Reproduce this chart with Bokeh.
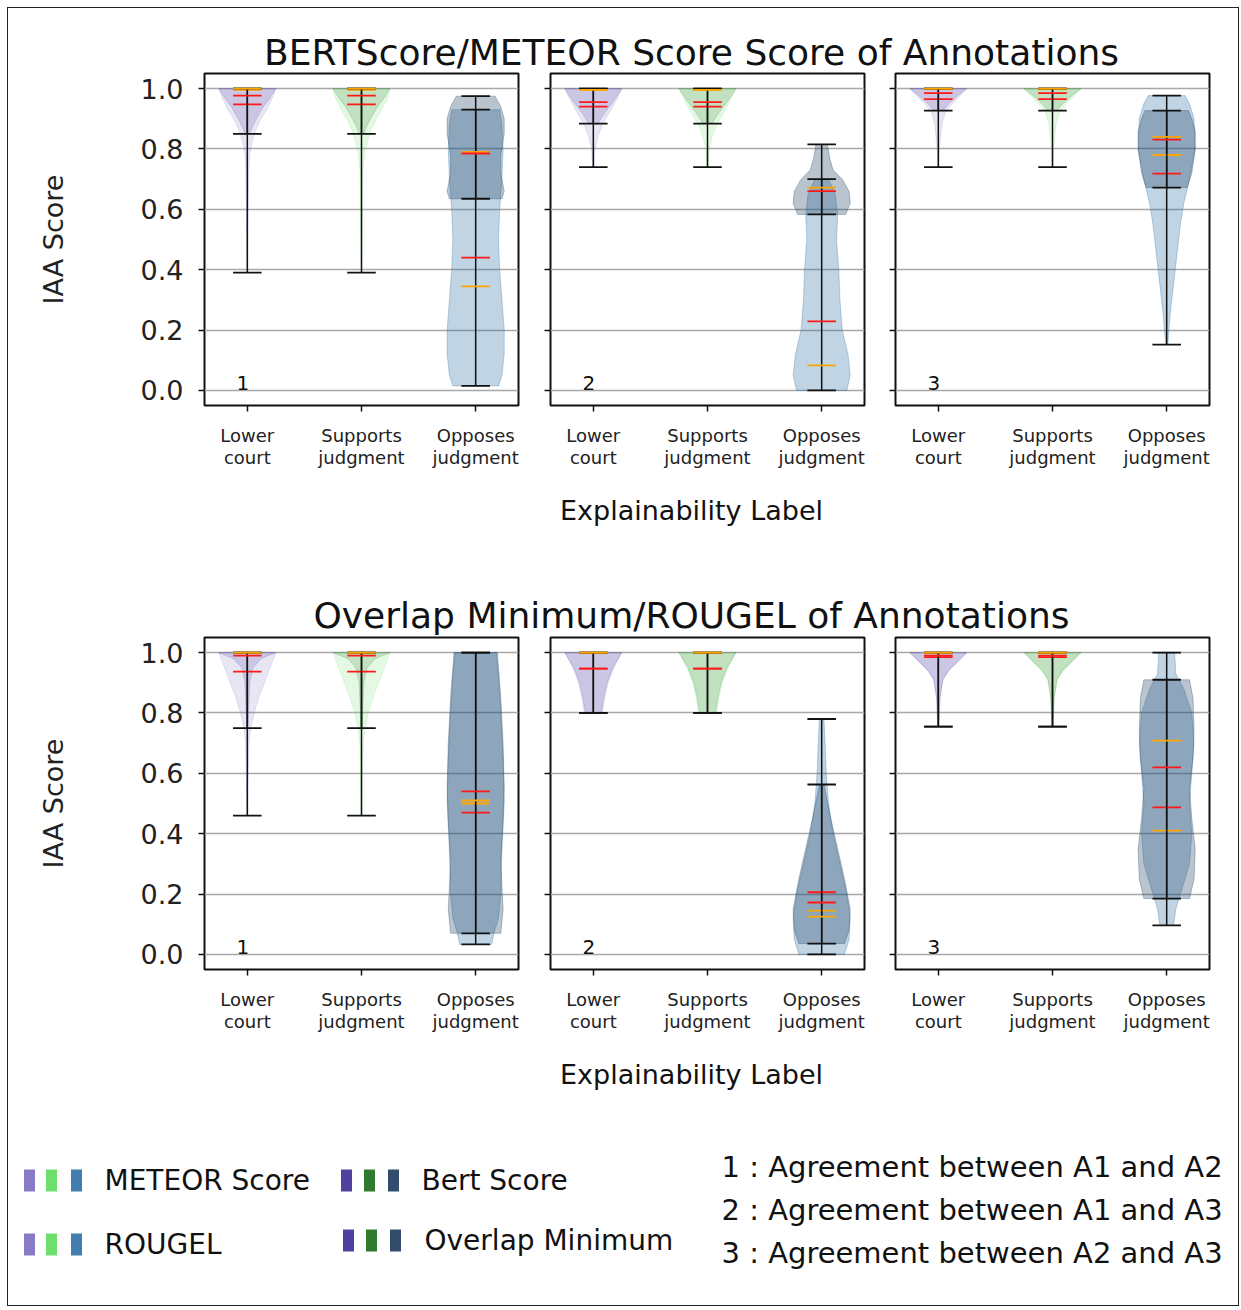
from bokeh.plotting import figure
from bokeh.layouts import column, row
from bokeh.models import Range1d, FixedTicker, CustomJSTickFormatter, PrintfTickFormatter
from bokeh.core.properties import value
from bokeh.embed import file_html
from bokeh.resources import INLINE

FONT = "DejaVu Sans"

# ---------------------------------------------------------------- data
categories = ["Lower\ncourt", "Supports\njudgment", "Opposes\njudgment"]
y_ticks = [0.0, 0.2, 0.4, 0.6, 0.8, 1.0]
pair_ids = ["1", "2", "3"]
pair_texts = [
    "1 : Agreement between A1 and A2",
    "2 : Agreement between A1 and A3",
    "3 : Agreement between A2 and A3",
]
top_title = "BERTScore/METEOR Score Score of Annotations"
bottom_title = "Overlap Minimum/ROUGEL of Annotations"

# statistics per annotator pair (outer) and category (inner)
meteor_min = [[0.39, 0.39, 0.015], [0.74, 0.74, 0.0], [0.74, 0.74, 0.152]]
meteor_max = [[1.0, 1.0, 0.93], [1.0, 1.0, 0.70], [1.0, 1.0, 0.977]]
meteor_mean = [[0.948, 0.948, 0.44], [0.94, 0.94, 0.229], [0.965, 0.965, 0.718]]
meteor_median = [[0.996, 0.996, 0.345], [0.996, 0.996, 0.083], [0.998, 0.998, 0.78]]

bert_min = [[0.85, 0.85, 0.635], [0.884, 0.884, 0.583], [0.927, 0.927, 0.672]]
bert_max = [[1.0, 1.0, 0.975], [1.0, 1.0, 0.815], [1.0, 1.0, 0.927]]
bert_mean = [[0.977, 0.977, 0.785], [0.955, 0.955, 0.66], [0.985, 0.985, 0.831]]
bert_median = [[1.0, 1.0, 0.79], [0.996, 0.996, 0.672], [1.0, 1.0, 0.84]]

rougel_min = [[0.46, 0.46, 0.033], [0.80, 0.80, 0.0], [0.755, 0.755, 0.096]]
rougel_max = [[1.0, 1.0, 1.0], [1.0, 1.0, 0.78], [1.0, 1.0, 1.0]]
rougel_mean = [[0.937, 0.937, 0.47], [0.947, 0.947, 0.206], [0.985, 0.985, 0.487]]
rougel_median = [[0.998, 0.998, 0.50], [0.998, 0.998, 0.145], [0.998, 0.998, 0.41]]

overlap_min = [[0.75, 0.75, 0.07], [0.80, 0.80, 0.036], [0.755, 0.755, 0.185]]
overlap_max = [[1.0, 1.0, 1.0], [1.0, 1.0, 0.563], [1.0, 1.0, 0.91]]
overlap_mean = [[0.99, 0.99, 0.54], [0.947, 0.947, 0.172], [0.99, 0.99, 0.62]]
overlap_median = [[1.0, 1.0, 0.51], [1.0, 1.0, 0.125], [1.0, 1.0, 0.708]]

# violin outlines: (score, half width) knots per pair and category
meteor_shape = [
    [[(0.39, 0.004), (0.6, 0.008), (0.72, 0.012), (0.78, 0.02), (0.82, 0.04), (0.86, 0.07), (0.9, 0.12), (0.93, 0.17), (0.97, 0.22), (1.0, 0.25)],
     [(0.39, 0.004), (0.6, 0.008), (0.72, 0.012), (0.78, 0.025), (0.82, 0.05), (0.86, 0.08), (0.9, 0.13), (0.94, 0.19), (0.97, 0.23), (1.0, 0.25)],
     [(0.015, 0.2), (0.05, 0.23), (0.12, 0.25), (0.2, 0.25), (0.3, 0.23), (0.4, 0.21), (0.5, 0.2), (0.6, 0.21), (0.7, 0.23), (0.8, 0.24), (0.88, 0.23), (0.93, 0.21)]],
    [[(0.74, 0.006), (0.8, 0.015), (0.84, 0.04), (0.88, 0.08), (0.92, 0.14), (0.96, 0.2), (1.0, 0.25)],
     [(0.74, 0.006), (0.8, 0.015), (0.84, 0.04), (0.88, 0.08), (0.92, 0.14), (0.96, 0.2), (1.0, 0.25)],
     [(0.0, 0.22), (0.05, 0.25), (0.12, 0.23), (0.2, 0.18), (0.3, 0.16), (0.4, 0.15), (0.5, 0.13), (0.58, 0.14), (0.65, 0.12), (0.70, 0.06)]],
    [[(0.74, 0.005), (0.8, 0.01), (0.88, 0.03), (0.92, 0.06), (0.95, 0.12), (0.98, 0.2), (1.0, 0.25)],
     [(0.74, 0.005), (0.8, 0.01), (0.88, 0.03), (0.92, 0.06), (0.95, 0.12), (0.98, 0.2), (1.0, 0.25)],
     [(0.152, 0.01), (0.25, 0.03), (0.35, 0.06), (0.45, 0.09), (0.55, 0.12), (0.62, 0.15), (0.7, 0.2), (0.8, 0.25), (0.9, 0.24), (0.95, 0.2), (0.977, 0.16)]],
]
bert_shape = [
    [[(0.85, 0.02), (0.87, 0.04), (0.9, 0.08), (0.94, 0.14), (0.97, 0.2), (1.0, 0.25)],
     [(0.85, 0.02), (0.87, 0.04), (0.9, 0.08), (0.94, 0.14), (0.97, 0.2), (1.0, 0.25)],
     [(0.635, 0.23), (0.66, 0.25), (0.72, 0.22), (0.78, 0.22), (0.85, 0.25), (0.9, 0.25), (0.94, 0.22), (0.975, 0.17)]],
    [[(0.884, 0.04), (0.92, 0.1), (0.96, 0.18), (1.0, 0.25)],
     [(0.884, 0.04), (0.92, 0.1), (0.96, 0.18), (1.0, 0.25)],
     [(0.583, 0.21), (0.62, 0.25), (0.66, 0.24), (0.70, 0.18), (0.73, 0.1), (0.77, 0.07), (0.815, 0.05)]],
    [[(0.927, 0.04), (0.95, 0.09), (0.98, 0.18), (1.0, 0.25)],
     [(0.927, 0.04), (0.95, 0.09), (0.98, 0.18), (1.0, 0.25)],
     [(0.672, 0.18), (0.72, 0.22), (0.8, 0.25), (0.86, 0.25), (0.9, 0.22), (0.927, 0.19)]],
]
rougel_shape = [
    [[(0.46, 0.005), (0.6, 0.008), (0.7, 0.015), (0.75, 0.03), (0.8, 0.06), (0.85, 0.1), (0.9, 0.15), (0.95, 0.2), (1.0, 0.25)],
     [(0.46, 0.005), (0.6, 0.008), (0.7, 0.015), (0.75, 0.03), (0.8, 0.06), (0.85, 0.1), (0.9, 0.15), (0.95, 0.2), (1.0, 0.25)],
     [(0.033, 0.14), (0.07, 0.16), (0.12, 0.2), (0.2, 0.22), (0.35, 0.23), (0.5, 0.25), (0.65, 0.24), (0.8, 0.22), (0.92, 0.2), (1.0, 0.18)]],
    [[(0.8, 0.08), (0.85, 0.1), (0.9, 0.13), (0.95, 0.18), (1.0, 0.25)],
     [(0.8, 0.08), (0.85, 0.1), (0.9, 0.13), (0.95, 0.18), (1.0, 0.25)],
     [(0.0, 0.2), (0.05, 0.24), (0.12, 0.25), (0.2, 0.22), (0.3, 0.16), (0.4, 0.1), (0.5, 0.06), (0.6, 0.04), (0.7, 0.03), (0.78, 0.02)]],
    [[(0.755, 0.005), (0.85, 0.015), (0.91, 0.04), (0.94, 0.09), (0.97, 0.17), (1.0, 0.25)],
     [(0.755, 0.005), (0.85, 0.015), (0.91, 0.04), (0.94, 0.09), (0.97, 0.17), (1.0, 0.25)],
     [(0.096, 0.06), (0.15, 0.08), (0.2, 0.12), (0.3, 0.2), (0.4, 0.22), (0.5, 0.2), (0.6, 0.22), (0.7, 0.24), (0.8, 0.22), (0.88, 0.15), (0.93, 0.08), (1.0, 0.07)]],
]
overlap_shape = [
    [[(0.75, 0.005), (0.9, 0.02), (0.95, 0.05), (0.98, 0.12), (1.0, 0.25)],
     [(0.75, 0.005), (0.9, 0.02), (0.95, 0.05), (0.98, 0.12), (1.0, 0.25)],
     [(0.07, 0.22), (0.15, 0.24), (0.3, 0.22), (0.45, 0.24), (0.55, 0.25), (0.7, 0.24), (0.85, 0.22), (0.95, 0.2), (1.0, 0.19)]],
    [[(0.8, 0.07), (0.85, 0.09), (0.9, 0.12), (0.95, 0.17), (1.0, 0.25)],
     [(0.8, 0.07), (0.85, 0.09), (0.9, 0.12), (0.95, 0.17), (1.0, 0.25)],
     [(0.036, 0.2), (0.08, 0.24), (0.15, 0.25), (0.25, 0.2), (0.35, 0.14), (0.45, 0.08), (0.563, 0.02)]],
    [[(0.755, 0.005), (0.85, 0.015), (0.91, 0.04), (0.94, 0.09), (0.97, 0.17), (1.0, 0.25)],
     [(0.755, 0.005), (0.85, 0.015), (0.91, 0.04), (0.94, 0.09), (0.97, 0.17), (1.0, 0.25)],
     [(0.185, 0.2), (0.25, 0.24), (0.35, 0.25), (0.45, 0.22), (0.55, 0.2), (0.65, 0.23), (0.75, 0.24), (0.85, 0.23), (0.91, 0.2)]],
]

# colours per category: lighter metric, darker metric
light_colors = ["#7d6cc0", "#5ddc5d", "#2f6fa6"]
dark_colors = ["#3b2c96", "#1a6b1a", "#1c3a5c"]
body_alpha = [0.17, 0.17, 0.3]
MEAN_COLOR = "#ff1a1a"
MEDIAN_COLOR = "#ffa500"
BAR_HALF = 0.125


def draw_violins(p, pair, shapes, colors):
    for c in range(3):
        pos = c + 1
        knots = shapes[pair][c]
        ys = [k[0] for k in knots]
        ws = [k[1] for k in knots]
        xs = [pos + w for w in ws] + [pos - w for w in reversed(ws)]
        yy = ys + list(reversed(ys))
        p.patch(xs, yy, fill_color=colors[c], fill_alpha=body_alpha[c],
                line_color=colors[c], line_alpha=body_alpha[c], line_width=1)


def draw_stats(p, pair, mins, maxs, means, medians):
    for c in range(3):
        pos = c + 1
        lo, hi = mins[pair][c], maxs[pair][c]
        p.segment(x0=[pos], y0=[lo], x1=[pos], y1=[hi], line_color="#111111", line_width=1.5)
        p.segment(x0=[pos - BAR_HALF] * 2, y0=[lo, hi], x1=[pos + BAR_HALF] * 2, y1=[lo, hi],
                  line_color="#111111", line_width=1.8)
        p.segment(x0=[pos - BAR_HALF], y0=[medians[pair][c]], x1=[pos + BAR_HALF],
                  y1=[medians[pair][c]], line_color=MEDIAN_COLOR, line_width=1.8)
        p.segment(x0=[pos - BAR_HALF], y0=[means[pair][c]], x1=[pos + BAR_HALF],
                  y1=[means[pair][c]], line_color=MEAN_COLOR, line_width=1.8)


def make_panel(pair, first, light, dark):
    left_border = 196 if first else (16 if pair == 1 else 15)
    right_border = 29 if pair == 2 else 16
    p = figure(frame_width=314, frame_height=332,
               x_range=Range1d(0.625, 3.375), y_range=Range1d(-0.05, 1.05),
               min_border_left=left_border, min_border_right=right_border,
               min_border_top=1, min_border_bottom=75,
               output_backend="svg", toolbar_location=None)
    p.background_fill_color = "white"
    p.border_fill_color = "white"
    p.outline_line_color = "#111111"
    p.outline_line_width = 2
    p.xgrid.visible = False
    p.ygrid.ticker = FixedTicker(ticks=y_ticks)
    p.ygrid.grid_line_color = "#a8a8a8"
    p.ygrid.grid_line_width = 1.5

    p.xaxis.ticker = FixedTicker(ticks=[1, 2, 3])
    p.xaxis.major_label_overrides = {1: categories[0], 2: categories[1], 3: categories[2]}
    p.xaxis.major_label_text_font = FONT
    p.xaxis.major_label_text_font_size = "18px"
    p.xaxis.major_label_text_color = "#222222"
    p.xaxis.major_label_standoff = 13
    p.xaxis.major_label_text_line_height = 1.05

    p.yaxis.ticker = FixedTicker(ticks=y_ticks)
    if first:
        p.yaxis.formatter = PrintfTickFormatter(format="%.1f")
        p.yaxis.axis_label = "IAA Score"
        p.yaxis.axis_label_text_font = FONT
        p.yaxis.axis_label_text_font_size = "27px"
        p.yaxis.axis_label_text_font_style = "normal"
        p.yaxis.axis_label_text_color = "#222222"
        p.yaxis.axis_label_standoff = 69
        p.yaxis.major_label_text_font = FONT
        p.yaxis.major_label_text_font_size = "27px"
        p.yaxis.major_label_text_color = "#222222"
        p.yaxis.major_label_standoff = 15
    else:
        p.yaxis.formatter = CustomJSTickFormatter(code="return ''")
        p.yaxis.major_label_standoff = 0

    for ax in (p.xaxis, p.yaxis):
        ax.axis_line_color = None
        ax.major_tick_in = 0
        ax.major_tick_out = 6
        ax.major_tick_line_width = 1.5
        ax.major_tick_line_color = "#111111"
        ax.minor_tick_line_color = None

    l_min, l_max, l_mean, l_med, l_shape = light
    d_min, d_max, d_mean, d_med, d_shape = dark
    draw_violins(p, pair, l_shape, light_colors)
    draw_violins(p, pair, d_shape, dark_colors)
    draw_stats(p, pair, l_min, l_max, l_mean, l_med)
    draw_stats(p, pair, d_min, d_max, d_mean, d_med)

    p.text(x=[0.96], y=[0.025], text=[pair_ids[pair]], text_align="center",
           text_baseline="middle", text_font=value(FONT), text_font_size="20px",
           text_color="#111111")
    return p


def text_canvas(top, bottom):
    p = figure(frame_width=1230, frame_height=bottom - top,
               x_range=Range1d(8, 1238), y_range=Range1d(bottom, top),
               min_border=0, output_backend="svg", toolbar_location=None)
    p.axis.visible = False
    p.grid.visible = False
    p.outline_line_color = None
    p.background_fill_color = "white"
    p.border_fill_color = "white"
    return p


def label(p, x, y, txt, size, align="center"):
    p.text(x=[x], y=[y], text=[txt], text_align=align, text_baseline="middle",
           text_font=value(FONT), text_font_size=size, text_color="#111111",
           text_line_height=1.0)


# ---------------------------------------------------------------- top row
head = text_canvas(8, 72)
label(head, 691, 52, top_title, "36px")

top_light = (meteor_min, meteor_max, meteor_mean, meteor_median, meteor_shape)
top_dark = (bert_min, bert_max, bert_mean, bert_median, bert_shape)
top_row = row([make_panel(i, i == 0, top_light, top_dark) for i in range(3)])

middle = text_canvas(480, 636)
label(middle, 691, 510, "Explainability Label", "27px")
label(middle, 691, 615, bottom_title, "36px")

bot_light = (rougel_min, rougel_max, rougel_mean, rougel_median, rougel_shape)
bot_dark = (overlap_min, overlap_max, overlap_mean, overlap_median, overlap_shape)
bottom_row = row([make_panel(i, i == 0, bot_light, bot_dark) for i in range(3)])

foot = text_canvas(1044, 1305)
label(foot, 691, 1074, "Explainability Label", "27px")

# legend swatches and entries
legend_names = ["METEOR Score", "Bert Score", "ROUGEL", "Overlap Minimum"]
legend_rows = [1180, 1180, 1244, 1240]
legend_swatch_x = [[29, 51, 76], [346, 369, 393], [29, 51, 76], [348, 371, 395]]
legend_text_x = [104, 421, 104, 424]
legend_palettes = [light_colors, dark_colors, light_colors, dark_colors]
for name, yy, sx, tx, pal in zip(legend_names, legend_rows, legend_swatch_x,
                                 legend_text_x, legend_palettes):
    foot.rect(x=sx, y=[yy] * 3, width=11, height=22, fill_color=pal,
              fill_alpha=0.9, line_color=None)
    label(foot, tx, yy, name, "28px", align="left")

for i, txt in enumerate(pair_texts):
    label(foot, 721, 1166 + 43 * i, txt, "29px", align="left")

layout = column([head, top_row, middle, bottom_row, foot], margin=(8, 0, 0, 8),
                styles={"outline": "1.5px solid #222222"})

open("out.html", "w").write(file_html(layout, INLINE))
